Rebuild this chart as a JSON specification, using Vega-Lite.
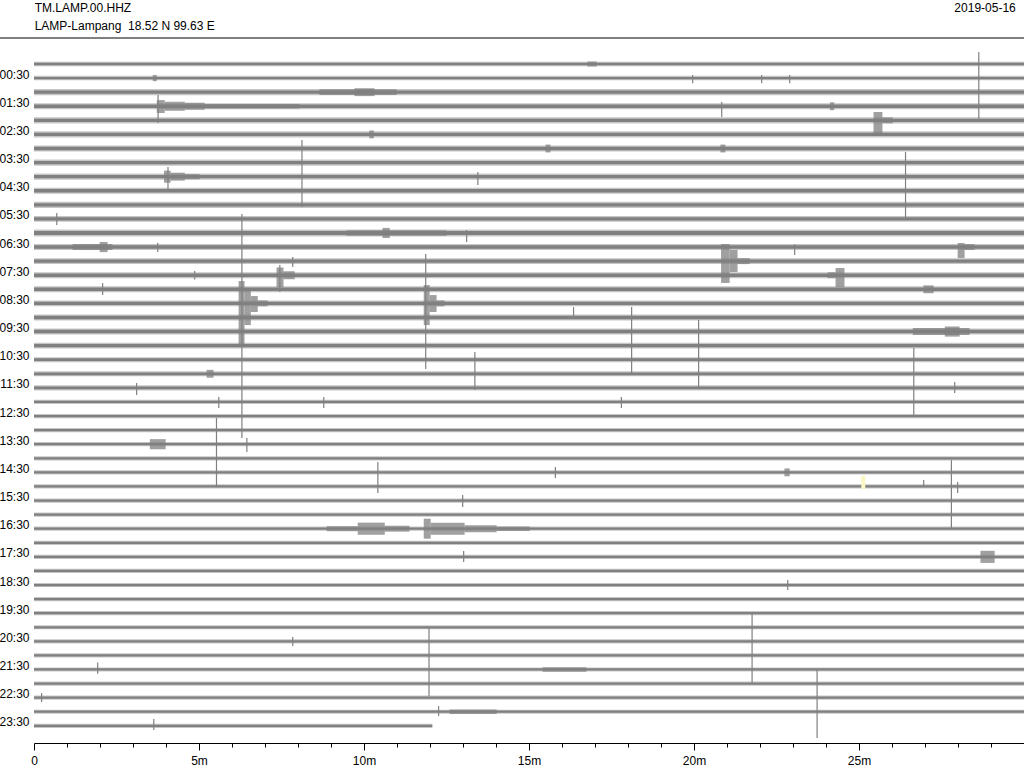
{
 "$schema": "https://vega.github.io/schema/vega-lite/v6.json",
 "width": 990, "height": 705,
 "autosize": {"type": "none"},
 "padding": {"left": 34, "top": 38, "right": 0, "bottom": 25},
 "background": "white",
 "config": {"view": {"stroke": null}, "font": "Liberation Sans"},
 "datasets": {
  "band": [
   {"row":0,"m1":0,"m2":30,"y1":-0.16,"y2":0.16},
   {"row":1,"m1":0,"m2":30,"y1":0.84,"y2":1.16},
   {"row":2,"m1":0,"m2":30,"y1":1.78,"y2":2.22},
   {"row":3,"m1":0,"m2":30,"y1":2.78,"y2":3.22},
   {"row":4,"m1":0,"m2":30,"y1":3.78,"y2":4.22},
   {"row":5,"m1":0,"m2":30,"y1":4.78,"y2":5.22},
   {"row":6,"m1":0,"m2":30,"y1":5.78,"y2":6.22},
   {"row":7,"m1":0,"m2":30,"y1":6.78,"y2":7.22},
   {"row":8,"m1":0,"m2":30,"y1":7.78,"y2":8.22},
   {"row":9,"m1":0,"m2":30,"y1":8.78,"y2":9.22},
   {"row":10,"m1":0,"m2":30,"y1":9.78,"y2":10.22},
   {"row":11,"m1":0,"m2":30,"y1":10.8,"y2":11.2},
   {"row":12,"m1":0,"m2":30,"y1":11.75,"y2":12.25},
   {"row":13,"m1":0,"m2":30,"y1":12.79,"y2":13.21},
   {"row":14,"m1":0,"m2":30,"y1":13.79,"y2":14.21},
   {"row":15,"m1":0,"m2":30,"y1":14.79,"y2":15.21},
   {"row":16,"m1":0,"m2":30,"y1":15.79,"y2":16.21},
   {"row":17,"m1":0,"m2":30,"y1":16.79,"y2":17.21},
   {"row":18,"m1":0,"m2":30,"y1":17.79,"y2":18.21},
   {"row":19,"m1":0,"m2":30,"y1":18.79,"y2":19.21},
   {"row":20,"m1":0,"m2":30,"y1":19.79,"y2":20.21},
   {"row":21,"m1":0,"m2":30,"y1":20.82,"y2":21.18},
   {"row":22,"m1":0,"m2":30,"y1":21.82,"y2":22.18},
   {"row":23,"m1":0,"m2":30,"y1":22.82,"y2":23.18},
   {"row":24,"m1":0,"m2":30,"y1":23.85,"y2":24.15},
   {"row":25,"m1":0,"m2":30,"y1":24.85,"y2":25.15},
   {"row":26,"m1":0,"m2":30,"y1":25.85,"y2":26.15},
   {"row":27,"m1":0,"m2":30,"y1":26.85,"y2":27.15},
   {"row":28,"m1":0,"m2":30,"y1":27.85,"y2":28.15},
   {"row":29,"m1":0,"m2":30,"y1":28.85,"y2":29.15},
   {"row":30,"m1":0,"m2":30,"y1":29.85,"y2":30.15},
   {"row":31,"m1":0,"m2":30,"y1":30.85,"y2":31.15},
   {"row":32,"m1":0,"m2":30,"y1":31.85,"y2":32.15},
   {"row":33,"m1":0,"m2":30,"y1":32.85,"y2":33.15},
   {"row":34,"m1":0,"m2":30,"y1":33.85,"y2":34.15},
   {"row":35,"m1":0,"m2":30,"y1":34.85,"y2":35.15},
   {"row":36,"m1":0,"m2":30,"y1":35.85,"y2":36.15},
   {"row":37,"m1":0,"m2":30,"y1":36.85,"y2":37.15},
   {"row":38,"m1":0,"m2":30,"y1":37.85,"y2":38.15},
   {"row":39,"m1":0,"m2":30,"y1":38.85,"y2":39.15},
   {"row":40,"m1":0,"m2":30,"y1":39.85,"y2":40.15},
   {"row":41,"m1":0,"m2":30,"y1":40.85,"y2":41.15},
   {"row":42,"m1":0,"m2":30,"y1":41.85,"y2":42.15},
   {"row":43,"m1":0,"m2":30,"y1":42.85,"y2":43.15},
   {"row":44,"m1":0,"m2":30,"y1":43.85,"y2":44.15},
   {"row":45,"m1":0,"m2":30,"y1":44.85,"y2":45.15},
   {"row":46,"m1":0,"m2":30,"y1":45.85,"y2":46.15},
   {"row":47,"m1":0,"m2":12.07,"y1":46.85,"y2":47.15}
  ],
  "core": [
   {"row":0,"m1":0,"m2":30,"y1":-0.085,"y2":0.085},
   {"row":1,"m1":0,"m2":30,"y1":0.915,"y2":1.085},
   {"row":2,"m1":0,"m2":30,"y1":1.88,"y2":2.12},
   {"row":3,"m1":0,"m2":30,"y1":2.88,"y2":3.12},
   {"row":4,"m1":0,"m2":30,"y1":3.88,"y2":4.12},
   {"row":5,"m1":0,"m2":30,"y1":4.88,"y2":5.12},
   {"row":6,"m1":0,"m2":30,"y1":5.88,"y2":6.12},
   {"row":7,"m1":0,"m2":30,"y1":6.88,"y2":7.12},
   {"row":8,"m1":0,"m2":30,"y1":7.88,"y2":8.12},
   {"row":9,"m1":0,"m2":30,"y1":8.88,"y2":9.12},
   {"row":10,"m1":0,"m2":30,"y1":9.88,"y2":10.12},
   {"row":11,"m1":0,"m2":30,"y1":10.89,"y2":11.11},
   {"row":12,"m1":0,"m2":30,"y1":11.86,"y2":12.14},
   {"row":13,"m1":0,"m2":30,"y1":12.88,"y2":13.12},
   {"row":14,"m1":0,"m2":30,"y1":13.88,"y2":14.12},
   {"row":15,"m1":0,"m2":30,"y1":14.88,"y2":15.12},
   {"row":16,"m1":0,"m2":30,"y1":15.88,"y2":16.12},
   {"row":17,"m1":0,"m2":30,"y1":16.88,"y2":17.12},
   {"row":18,"m1":0,"m2":30,"y1":17.88,"y2":18.12},
   {"row":19,"m1":0,"m2":30,"y1":18.88,"y2":19.12},
   {"row":20,"m1":0,"m2":30,"y1":19.88,"y2":20.12},
   {"row":21,"m1":0,"m2":30,"y1":20.9,"y2":21.1},
   {"row":22,"m1":0,"m2":30,"y1":21.9,"y2":22.1},
   {"row":23,"m1":0,"m2":30,"y1":22.9,"y2":23.1},
   {"row":24,"m1":0,"m2":30,"y1":23.92,"y2":24.08},
   {"row":25,"m1":0,"m2":30,"y1":24.92,"y2":25.08},
   {"row":26,"m1":0,"m2":30,"y1":25.92,"y2":26.08},
   {"row":27,"m1":0,"m2":30,"y1":26.92,"y2":27.08},
   {"row":28,"m1":0,"m2":30,"y1":27.92,"y2":28.08},
   {"row":29,"m1":0,"m2":30,"y1":28.92,"y2":29.08},
   {"row":30,"m1":0,"m2":30,"y1":29.92,"y2":30.08},
   {"row":31,"m1":0,"m2":30,"y1":30.92,"y2":31.08},
   {"row":32,"m1":0,"m2":30,"y1":31.92,"y2":32.08},
   {"row":33,"m1":0,"m2":30,"y1":32.92,"y2":33.08},
   {"row":34,"m1":0,"m2":30,"y1":33.92,"y2":34.08},
   {"row":35,"m1":0,"m2":30,"y1":34.92,"y2":35.08},
   {"row":36,"m1":0,"m2":30,"y1":35.92,"y2":36.08},
   {"row":37,"m1":0,"m2":30,"y1":36.92,"y2":37.08},
   {"row":38,"m1":0,"m2":30,"y1":37.92,"y2":38.08},
   {"row":39,"m1":0,"m2":30,"y1":38.92,"y2":39.08},
   {"row":40,"m1":0,"m2":30,"y1":39.92,"y2":40.08},
   {"row":41,"m1":0,"m2":30,"y1":40.92,"y2":41.08},
   {"row":42,"m1":0,"m2":30,"y1":41.92,"y2":42.08},
   {"row":43,"m1":0,"m2":30,"y1":42.92,"y2":43.08},
   {"row":44,"m1":0,"m2":30,"y1":43.92,"y2":44.08},
   {"row":45,"m1":0,"m2":30,"y1":44.92,"y2":45.08},
   {"row":46,"m1":0,"m2":30,"y1":45.92,"y2":46.08},
   {"row":47,"m1":0,"m2":12.07,"y1":46.92,"y2":47.08}
  ],
  "bursts": [
   {"m1":3.72,"m2":3.96,"y1":2.56,"y2":3.48},
   {"m1":3.96,"m2":4.57,"y1":2.68,"y2":3.32},
   {"m1":4.57,"m2":5.17,"y1":2.75,"y2":3.25},
   {"m1":5.17,"m2":8.05,"y1":2.84,"y2":3.16},
   {"m1":8.65,"m2":10.99,"y1":1.8,"y2":2.2},
   {"m1":9.71,"m2":10.32,"y1":1.72,"y2":2.28},
   {"m1":3.94,"m2":4.14,"y1":7.57,"y2":8.43},
   {"m1":4.14,"m2":4.57,"y1":7.72,"y2":8.28},
   {"m1":4.57,"m2":5.02,"y1":7.82,"y2":8.18},
   {"m1":9.47,"m2":12.5,"y1":11.8,"y2":12.2},
   {"m1":10.56,"m2":10.78,"y1":11.64,"y2":12.36},
   {"m1":1.17,"m2":2.38,"y1":12.79,"y2":13.21},
   {"m1":1.99,"m2":2.23,"y1":12.64,"y2":13.36},
   {"m1":7.35,"m2":7.56,"y1":14.45,"y2":15.85},
   {"m1":7.56,"m2":7.9,"y1":14.72,"y2":15.28},
   {"m1":6.2,"m2":6.38,"y1":15.41,"y2":19.96},
   {"m1":6.38,"m2":6.57,"y1":16.05,"y2":18.54},
   {"m1":6.57,"m2":6.78,"y1":16.48,"y2":17.61},
   {"m1":6.78,"m2":7.08,"y1":16.79,"y2":17.21},
   {"m1":11.81,"m2":11.99,"y1":15.7,"y2":18.54},
   {"m1":11.99,"m2":12.2,"y1":16.41,"y2":17.61},
   {"m1":12.2,"m2":12.44,"y1":16.79,"y2":17.21},
   {"m1":5.23,"m2":5.44,"y1":21.72,"y2":22.28},
   {"m1":20.82,"m2":21.08,"y1":12.78,"y2":15.55},
   {"m1":21.08,"m2":21.32,"y1":13.21,"y2":14.77},
   {"m1":21.32,"m2":21.69,"y1":13.79,"y2":14.21},
   {"m1":27.99,"m2":28.2,"y1":12.71,"y2":13.78},
   {"m1":28.2,"m2":28.5,"y1":12.79,"y2":13.21},
   {"m1":25.44,"m2":25.71,"y1":3.41,"y2":4.9},
   {"m1":25.71,"m2":26.02,"y1":3.79,"y2":4.21},
   {"m1":24.29,"m2":24.56,"y1":14.49,"y2":15.84},
   {"m1":24.05,"m2":24.29,"y1":14.79,"y2":15.21},
   {"m1":26.95,"m2":27.26,"y1":15.72,"y2":16.28},
   {"m1":26.63,"m2":28.35,"y1":18.75,"y2":19.25},
   {"m1":27.6,"m2":28.05,"y1":18.64,"y2":19.36},
   {"m1":3.51,"m2":3.99,"y1":26.64,"y2":27.36},
   {"m1":8.87,"m2":9.81,"y1":32.82,"y2":33.18},
   {"m1":9.81,"m2":10.63,"y1":32.57,"y2":33.43},
   {"m1":10.63,"m2":11.38,"y1":32.79,"y2":33.21},
   {"m1":11.81,"m2":12.02,"y1":32.29,"y2":33.71},
   {"m1":12.02,"m2":13.05,"y1":32.57,"y2":33.43},
   {"m1":13.05,"m2":14.02,"y1":32.75,"y2":33.25},
   {"m1":14.02,"m2":15.02,"y1":32.84,"y2":33.16},
   {"m1":28.68,"m2":29.11,"y1":34.57,"y2":35.43},
   {"m1":12.59,"m2":14.02,"y1":45.84,"y2":46.16},
   {"m1":15.41,"m2":16.74,"y1":42.84,"y2":43.16},
   {"m1":15.5,"m2":15.65,"y1":5.72,"y2":6.28},
   {"m1":20.8,"m2":20.95,"y1":5.72,"y2":6.28},
   {"m1":24.12,"m2":24.25,"y1":2.72,"y2":3.28},
   {"m1":22.74,"m2":22.9,"y1":28.72,"y2":29.28},
   {"m1":16.77,"m2":17.05,"y1":-0.18,"y2":0.18},
   {"m1":10.16,"m2":10.3,"y1":4.72,"y2":5.28},
   {"m1":3.6,"m2":3.72,"y1":0.78,"y2":1.22}
  ],
  "spikes": [
   {"m1":3.76,"y1":2.2,"y2":4.19},
   {"m1":8.12,"y1":5.4,"y2":10.16},
   {"m1":4.06,"y1":7.32,"y2":9.09},
   {"m1":13.45,"y1":7.67,"y2":8.59},
   {"m1":6.3,"y1":10.65,"y2":26.56},
   {"m1":7.45,"y1":14.28,"y2":16.19},
   {"m1":7.84,"y1":13.7,"y2":14.42},
   {"m1":2.08,"y1":15.55,"y2":16.4},
   {"m1":11.87,"y1":13.49,"y2":21.66},
   {"m1":13.11,"y1":11.79,"y2":12.64},
   {"m1":13.36,"y1":20.45,"y2":23.15},
   {"m1":3.11,"y1":22.66,"y2":23.5},
   {"m1":28.63,"y1":-0.85,"y2":3.98},
   {"m1":20.84,"y1":2.7,"y2":3.76},
   {"m1":26.41,"y1":6.25,"y2":10.94},
   {"m1":16.35,"y1":17.26,"y2":18.11},
   {"m1":18.11,"y1":17.26,"y2":22.09},
   {"m1":20.14,"y1":18.18,"y2":23.01},
   {"m1":26.66,"y1":20.17,"y2":25.0},
   {"m1":27.9,"y1":22.59,"y2":23.37},
   {"m1":5.6,"y1":23.65,"y2":24.43},
   {"m1":8.78,"y1":23.65,"y2":24.43},
   {"m1":5.53,"y1":25.14,"y2":30.04},
   {"m1":6.45,"y1":26.56,"y2":27.56},
   {"m1":10.42,"y1":28.27,"y2":30.47},
   {"m1":12.99,"y1":30.61,"y2":31.46},
   {"m1":13.02,"y1":34.59,"y2":35.37},
   {"m1":11.97,"y1":39.99,"y2":44.89},
   {"m1":7.84,"y1":40.7,"y2":41.34},
   {"m1":1.93,"y1":42.5,"y2":43.3},
   {"m1":0.23,"y1":44.67,"y2":45.31},
   {"m1":12.26,"y1":45.6,"y2":46.3},
   {"m1":3.63,"y1":46.52,"y2":47.3},
   {"m1":17.8,"y1":23.65,"y2":24.43},
   {"m1":15.8,"y1":28.62,"y2":29.4},
   {"m1":26.96,"y1":29.55,"y2":30.04},
   {"m1":27.8,"y1":28.13,"y2":33.03},
   {"m1":27.99,"y1":29.69,"y2":30.47},
   {"m1":22.84,"y1":36.65,"y2":37.36},
   {"m1":21.76,"y1":39.06,"y2":43.96},
   {"m1":23.73,"y1":43.04,"y2":47.87},
   {"m1":19.96,"y1":0.78,"y2":1.36},
   {"m1":22.05,"y1":0.78,"y2":1.36},
   {"m1":22.9,"y1":0.78,"y2":1.36},
   {"m1":23.05,"y1":12.8,"y2":13.56},
   {"m1":0.69,"y1":10.58,"y2":11.43},
   {"m1":4.87,"y1":14.7,"y2":15.3},
   {"m1":3.75,"y1":12.7,"y2":13.35}
  ]
 },
 "encoding": {
  "x": {"field": "m1", "type": "quantitative",
   "scale": {"domain": [0, 30], "nice": false, "zero": false},
   "axis": {"title": null, "values": [0,1,2,3,4,5,6,7,8,9,10,11,12,13,14,15,16,17,18,19,20,21,22,23,24,25,26,27,28,29],
    "labelExpr": "datum.value % 5 === 0 ? (datum.value === 0 ? '0' : datum.value + 'm') : ''",
    "tickSize": {"condition": {"test": "datum.value % 5 === 0", "value": 7}, "value": 4},
    "tickColor": "black", "domainColor": "black", "labelColor": "black", "labelFontSize": 12, "labelFont": "Liberation Sans",
    "labelPadding": 5, "labelFlush": false, "labelOverlap": false, "labelBound": false, "grid": false, "domainWidth": 1, "tickWidth": 1}},
  "y": {"field": "y1", "type": "quantitative",
   "scale": {"domain": [-1.847, 48.22], "reverse": true, "nice": false, "zero": false},
   "axis": {"title": null, "values": [1,3,5,7,9,11,13,15,17,19,21,23,25,27,29,31,33,35,37,39,41,43,45,47],
    "labelExpr": "(floor(datum.value / 2) < 10 ? '0' : '') + floor(datum.value / 2) + ':30'",
    "ticks": false, "domain": false, "grid": false, "labelPadding": 5, "labelOffset": -4,
    "labelFontSize": 12, "labelColor": "black", "labelFont": "Liberation Sans", "labelOverlap": false, "labelFlush": false, "labelBound": false}}
 },
 "layer": [
  {"data": {"name": "band"}, "mark": {"type": "rect", "color": "#808080", "opacity": 0.45},
   "encoding": {"x2": {"field": "m2"}, "y2": {"field": "y2"}}},
  {"data": {"name": "core"}, "mark": {"type": "rect", "color": "#808080"},
   "encoding": {"x2": {"field": "m2"}, "y2": {"field": "y2"}}},
  {"data": {"name": "bursts"}, "mark": {"type": "rect", "color": "#808080", "opacity": 0.75},
   "encoding": {"x2": {"field": "m2"}, "y2": {"field": "y2"}}},
  {"data": {"name": "spikes"}, "mark": {"type": "rule", "color": "#808080", "strokeWidth": 1.2},
   "encoding": {"y2": {"field": "y2"}}},
  {"data": {"values": [{"m1": 25.07, "m2": 25.19, "y1": 29.26, "y2": 30.18}]}, "mark": {"type": "rect", "color": "#fbf7c2"},
   "encoding": {"x2": {"field": "m2"}, "y2": {"field": "y2"}}},
  {"data": {"values": [{"m1": -1.06, "m2": 30, "y1": -1.847}]}, "mark": {"type": "rule", "color": "black", "strokeWidth": 1},
   "encoding": {"x2": {"field": "m2"}}},
  {"data": {"values": [{"m1": 0.02, "y1": -3.98, "label": "TM.LAMP.00.HHZ"}, {"m1": 0.02, "y1": -2.7, "label": "LAMP-Lampang\u00a0 18.52 N 99.63 E"}]},
   "mark": {"type": "text", "align": "left", "baseline": "middle", "fontSize": 12, "font": "Liberation Sans", "color": "black"},
   "encoding": {"text": {"field": "label"}}},
  {"data": {"values": [{"m1": 29.75, "y1": -3.98, "label": "2019-05-16"}]},
   "mark": {"type": "text", "align": "right", "baseline": "middle", "fontSize": 12, "font": "Liberation Sans", "color": "black"},
   "encoding": {"text": {"field": "label"}}}
 ]
}
